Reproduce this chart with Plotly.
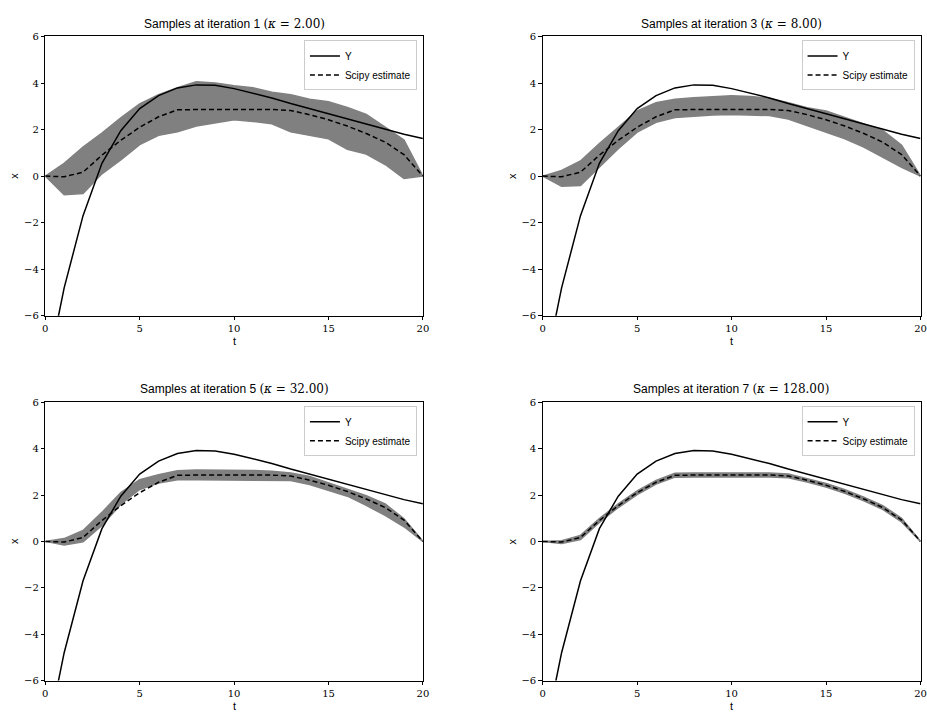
import plotly.graph_objects as go

t = list(range(21))

# Observed Y (t=0 lies below the axis range)
y_obs = [-8.8, -4.8, -1.7, 0.55, 1.95, 2.9, 3.46, 3.79, 3.92, 3.9, 3.76, 3.57, 3.36,
         3.12, 2.9, 2.66, 2.43, 2.21, 2.0, 1.8, 1.62]

# Scipy estimate (dashed)
scipy_est = [0.0, -0.03, 0.17, 0.9, 1.54, 2.1, 2.55, 2.85, 2.86, 2.86, 2.86, 2.86, 2.86,
             2.82, 2.64, 2.42, 2.15, 1.83, 1.46, 0.92, 0.0]

MATH = '<span style="font-family:DejaVu Serif">({k} = {v})</span>'
titles = ["Samples at iteration 1 " + MATH.format(k="<i>κ</i>", v="2.00"),
          "Samples at iteration 3 " + MATH.format(k="<i>κ</i>", v="8.00"),
          "Samples at iteration 5 " + MATH.format(k="<i>κ</i>", v="32.00"),
          "Samples at iteration 7 " + MATH.format(k="<i>κ</i>", v="128.00")]

# Envelope of the sample paths in each panel (upper / lower edge of the grey band)
upper_1 = [0.0, 0.55, 1.25, 1.85, 2.5, 3.1, 3.5, 3.8, 4.05, 4.0, 3.88, 3.8, 3.6,
           3.5, 3.3, 3.2, 2.95, 2.65, 2.1, 1.55, 0.0]
lower_1 = [0.0, -0.8, -0.75, 0.1, 0.7, 1.35, 1.75, 1.9, 2.15, 2.3, 2.42, 2.35, 2.25,
           1.9, 1.75, 1.6, 1.15, 0.95, 0.5, -0.1, 0.0]

upper_3 = [0.0, 0.24, 0.65, 1.4, 2.1, 2.8, 3.15, 3.3, 3.37, 3.4, 3.45, 3.42, 3.35,
           3.15, 2.94, 2.8, 2.52, 2.24, 1.96, 1.33, 0.0]
lower_3 = [0.0, -0.44, -0.4, 0.41, 1.18, 1.89, 2.31, 2.52, 2.59, 2.63, 2.65, 2.62, 2.6,
           2.45, 2.17, 1.89, 1.6, 1.25, 0.83, 0.38, 0.0]

upper_5 = [0.0, 0.12, 0.47, 1.25, 2.1, 2.66, 2.88, 3.05, 3.08, 3.08, 3.08, 3.06, 3.02,
           2.95, 2.8, 2.52, 2.25, 1.97, 1.62, 0.97, 0.0]
lower_5 = [0.0, -0.16, -0.02, 0.69, 1.6, 2.24, 2.52, 2.66, 2.66, 2.66, 2.66, 2.66, 2.65,
           2.63, 2.45, 2.2, 1.95, 1.55, 1.12, 0.63, 0.0]

upper_7 = [0.0, 0.03, 0.26, 0.98, 1.62, 2.18, 2.63, 2.94, 2.95, 2.95, 2.95, 2.95, 2.95,
           2.91, 2.72, 2.5, 2.23, 1.91, 1.54, 1.0, 0.0]
lower_7 = [0.0, -0.09, 0.08, 0.82, 1.46, 2.02, 2.47, 2.77, 2.78, 2.78, 2.78, 2.78, 2.78,
           2.74, 2.56, 2.34, 2.07, 1.75, 1.38, 0.84, 0.0]

bands = [(upper_1, lower_1), (upper_3, lower_3), (upper_5, lower_5), (upper_7, lower_7)]

x_ticks = [0, 5, 10, 15, 20]
y_ticks = [-6, -4, -2, 0, 2, 4, 6]
y_tick_text = ["−6", "−4", "−2", "0", "2", "4", "6"]

W, H = 927, 717
# pixel boxes of the four panels (left, right, top, bottom)
boxes = [(42.7, 424.0, 31.0, 315.0), (545.0, 926.5, 31.0, 315.0),
         (42.7, 424.0, 403.0, 686.0), (545.0, 926.5, 403.0, 686.0)]

fig = go.Figure()
GREY = "rgb(128,128,128)"
SANS = "Liberation Sans"
SERIF = "DejaVu Serif"

for k, ((up, lo), box) in enumerate(zip(bands, boxes)):
    n = k + 1
    xa = "x" if n == 1 else f"x{n}"
    ya = "y" if n == 1 else f"y{n}"
    lg = "legend" if n == 1 else f"legend{n}"
    fig.add_trace(go.Scatter(x=t, y=lo, xaxis=xa, yaxis=ya, mode="lines",
                             line=dict(color=GREY, width=1.5), showlegend=False,
                             hoverinfo="skip"))
    fig.add_trace(go.Scatter(x=t, y=up, xaxis=xa, yaxis=ya, mode="lines",
                             line=dict(color=GREY, width=1.5), fill="tonexty",
                             fillcolor=GREY, showlegend=False, hoverinfo="skip"))
    fig.add_trace(go.Scatter(x=t, y=y_obs, xaxis=xa, yaxis=ya, mode="lines",
                             line=dict(color="black", width=1.5), name="Y",
                             legend=lg, showlegend=True, legendrank=1))
    fig.add_trace(go.Scatter(x=t, y=scipy_est, xaxis=xa, yaxis=ya, mode="lines",
                             line=dict(color="black", width=1.5, dash="5px,3px"),
                             name="Scipy estimate", legend=lg, showlegend=True,
                             legendrank=2))

    l, r, tp, bt = box
    dx = [l / W, min(r / W, 1.0)]
    dy = [1 - bt / H, 1 - tp / H]
    axis_common = dict(showline=True, mirror=True, linecolor="black", linewidth=1,
                       ticks="outside", ticklen=3.5, tickwidth=0.8, tickcolor="black",
                       showgrid=False, zeroline=False,
                       tickfont=dict(family=SERIF, size=10, color="black"))
    fig.layout[("xaxis" if n == 1 else f"xaxis{n}")] = dict(
        domain=dx, range=[0, 20], tickvals=x_ticks, anchor=ya, **axis_common)
    fig.layout[("yaxis" if n == 1 else f"yaxis{n}")] = dict(
        domain=dy, range=[-6, 6], tickvals=y_ticks, ticktext=y_tick_text,
        anchor=xa, **axis_common)
    fig.layout[lg] = dict(x=(r - 6) / W, y=1 - (tp + 4) / H, xanchor="right",
                          yanchor="top", bgcolor="rgba(255,255,255,0.8)",
                          bordercolor="rgb(204,204,204)", borderwidth=1,
                          font=dict(family=SANS, size=10, color="black"),
                          itemwidth=30, tracegroupgap=0, traceorder="normal")
    cx = (l + min(r, 926.0)) / 2 / W
    fig.add_annotation(text=titles[k], x=cx, y=1 - (tp - 4) / H, xref="paper",
                       yref="paper", xanchor="center", yanchor="bottom",
                       showarrow=False, font=dict(family=SANS, size=12, color="black"))
    fig.add_annotation(text="t", x=cx, y=1 - (bt + 18) / H, xref="paper",
                       yref="paper", xanchor="center", yanchor="top",
                       showarrow=False, font=dict(family=SANS, size=11, color="black"))
    fig.add_annotation(text="x", x=(l - 31) / W, y=(dy[0] + dy[1]) / 2, xref="paper",
                       yref="paper", xanchor="center", yanchor="middle", textangle=-90,
                       showarrow=False, font=dict(family=SANS, size=11, color="black"))

fig.update_layout(width=W, height=H, margin=dict(l=0, r=0, t=0, b=0),
                  paper_bgcolor="white", plot_bgcolor="white")

fig.write_html("out.html")
